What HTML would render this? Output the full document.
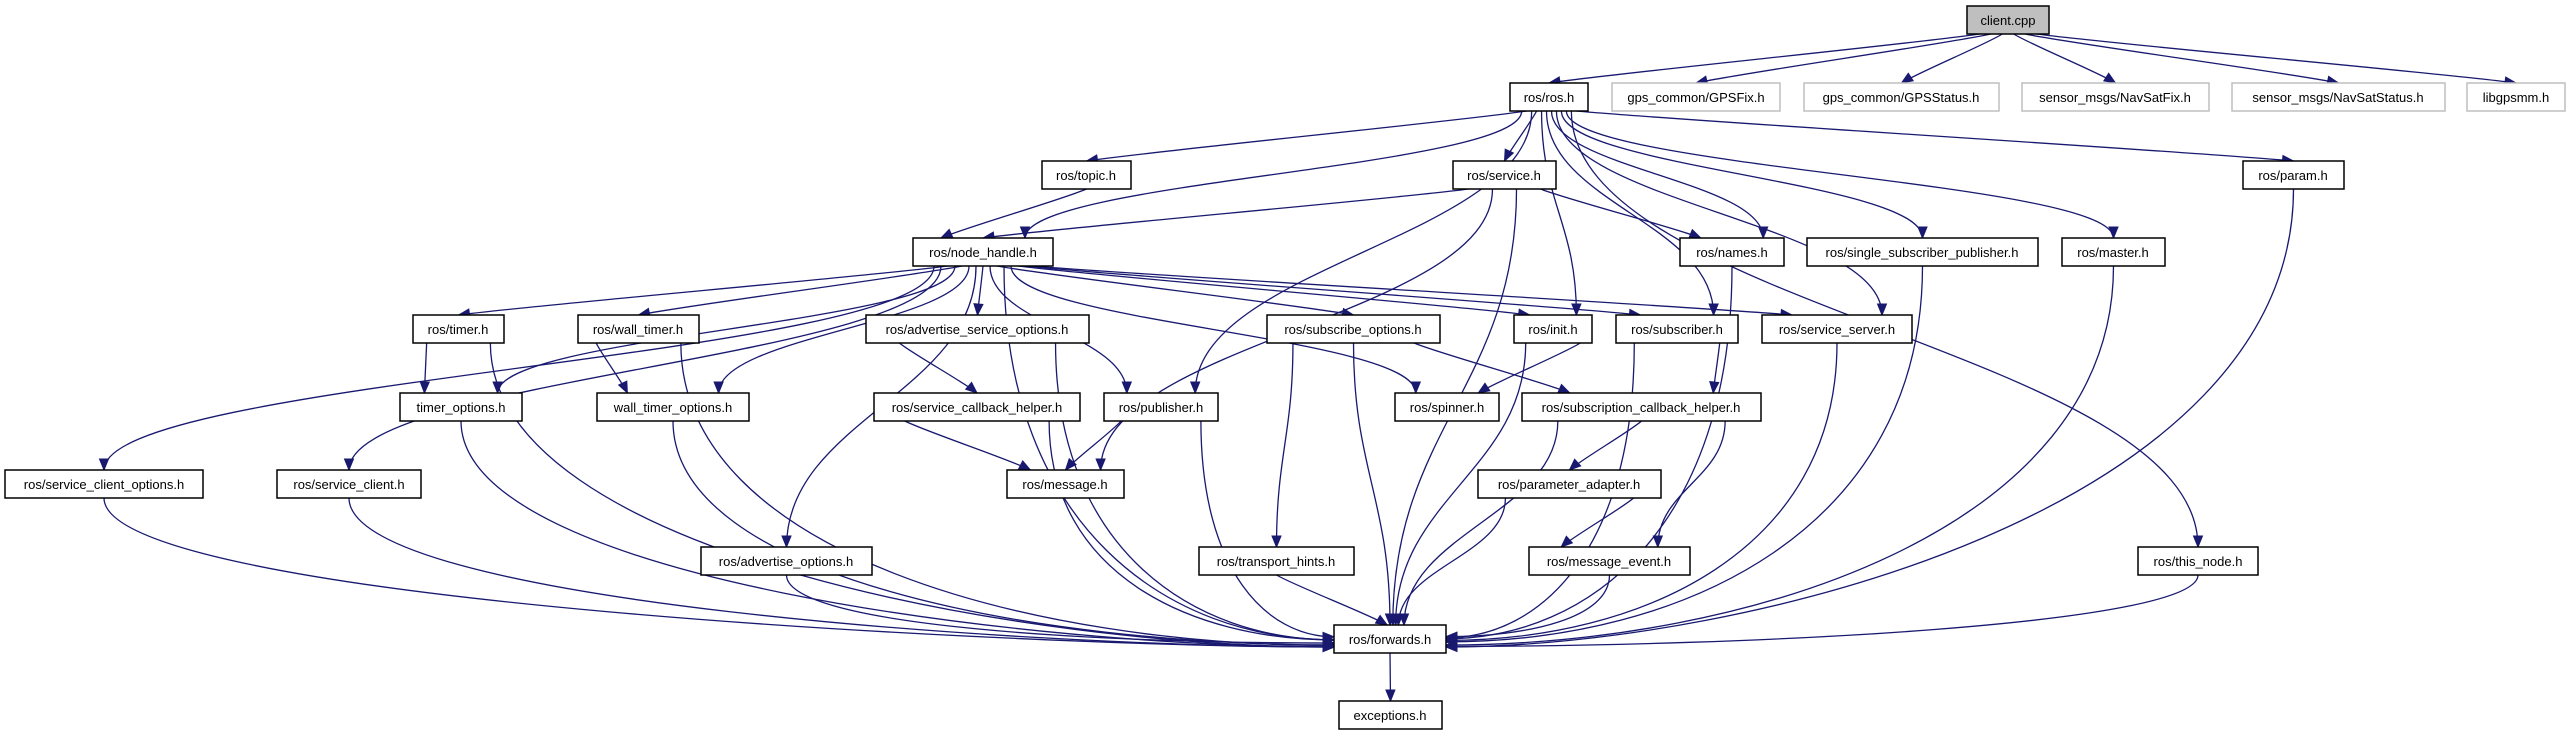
<!DOCTYPE html>
<html><head><meta charset="utf-8">
<style>
html,body{margin:0;padding:0;background:#fff;}
svg{display:block;}
text{font-family:"Liberation Sans",sans-serif;font-size:13px;fill:#000;}
</style></head>
<body>
<svg id="g" width="2569" height="736" viewBox="0 0 2569 736" xmlns="http://www.w3.org/2000/svg">
<g id="edges" fill="none" stroke="#191970" stroke-width="1.3"></g>
<g id="heads" fill="#191970" stroke="#191970" stroke-width="1"></g>
<g id="nodes" stroke-width="1.5">
<rect x="1967" y="6" width="82" height="28" fill="#bfbfbf" stroke="#000"/><text x="2008" y="25" text-anchor="middle">client.cpp</text>
<rect x="1510" y="83" width="78" height="28" fill="#fff" stroke="#000"/><text x="1549" y="102" text-anchor="middle">ros/ros.h</text>
<rect x="1612" y="83" width="168" height="28" fill="#fff" stroke="#bfbfbf"/><text x="1696" y="102" text-anchor="middle">gps_common/GPSFix.h</text>
<rect x="1804" y="83" width="195" height="28" fill="#fff" stroke="#bfbfbf"/><text x="1901" y="102" text-anchor="middle">gps_common/GPSStatus.h</text>
<rect x="2022" y="83" width="187" height="28" fill="#fff" stroke="#bfbfbf"/><text x="2115" y="102" text-anchor="middle">sensor_msgs/NavSatFix.h</text>
<rect x="2232" y="83" width="213" height="28" fill="#fff" stroke="#bfbfbf"/><text x="2338" y="102" text-anchor="middle">sensor_msgs/NavSatStatus.h</text>
<rect x="2467" y="83" width="98" height="28" fill="#fff" stroke="#bfbfbf"/><text x="2516" y="102" text-anchor="middle">libgpsmm.h</text>
<rect x="1042" y="161" width="89" height="28" fill="#fff" stroke="#000"/><text x="1086" y="180" text-anchor="middle">ros/topic.h</text>
<rect x="1453" y="161" width="103" height="28" fill="#fff" stroke="#000"/><text x="1504" y="180" text-anchor="middle">ros/service.h</text>
<rect x="2243" y="161" width="101" height="28" fill="#fff" stroke="#000"/><text x="2293" y="180" text-anchor="middle">ros/param.h</text>
<rect x="913" y="238" width="140" height="28" fill="#fff" stroke="#000"/><text x="983" y="257" text-anchor="middle">ros/node_handle.h</text>
<rect x="1680" y="238" width="104" height="28" fill="#fff" stroke="#000"/><text x="1732" y="257" text-anchor="middle">ros/names.h</text>
<rect x="1807" y="238" width="231" height="28" fill="#fff" stroke="#000"/><text x="1922" y="257" text-anchor="middle">ros/single_subscriber_publisher.h</text>
<rect x="2062" y="238" width="103" height="28" fill="#fff" stroke="#000"/><text x="2113" y="257" text-anchor="middle">ros/master.h</text>
<rect x="413" y="315" width="91" height="28" fill="#fff" stroke="#000"/><text x="458" y="334" text-anchor="middle">ros/timer.h</text>
<rect x="578" y="315" width="121" height="28" fill="#fff" stroke="#000"/><text x="638" y="334" text-anchor="middle">ros/wall_timer.h</text>
<rect x="866" y="315" width="223" height="28" fill="#fff" stroke="#000"/><text x="977" y="334" text-anchor="middle">ros/advertise_service_options.h</text>
<rect x="1267" y="315" width="173" height="28" fill="#fff" stroke="#000"/><text x="1353" y="334" text-anchor="middle">ros/subscribe_options.h</text>
<rect x="1514" y="315" width="78" height="28" fill="#fff" stroke="#000"/><text x="1553" y="334" text-anchor="middle">ros/init.h</text>
<rect x="1616" y="315" width="122" height="28" fill="#fff" stroke="#000"/><text x="1677" y="334" text-anchor="middle">ros/subscriber.h</text>
<rect x="1762" y="315" width="150" height="28" fill="#fff" stroke="#000"/><text x="1837" y="334" text-anchor="middle">ros/service_server.h</text>
<rect x="400" y="393" width="122" height="28" fill="#fff" stroke="#000"/><text x="461" y="412" text-anchor="middle">timer_options.h</text>
<rect x="597" y="393" width="152" height="28" fill="#fff" stroke="#000"/><text x="673" y="412" text-anchor="middle">wall_timer_options.h</text>
<rect x="874" y="393" width="206" height="28" fill="#fff" stroke="#000"/><text x="977" y="412" text-anchor="middle">ros/service_callback_helper.h</text>
<rect x="1104" y="393" width="114" height="28" fill="#fff" stroke="#000"/><text x="1161" y="412" text-anchor="middle">ros/publisher.h</text>
<rect x="1395" y="393" width="104" height="28" fill="#fff" stroke="#000"/><text x="1447" y="412" text-anchor="middle">ros/spinner.h</text>
<rect x="1522" y="393" width="239" height="28" fill="#fff" stroke="#000"/><text x="1641" y="412" text-anchor="middle">ros/subscription_callback_helper.h</text>
<rect x="5" y="470" width="198" height="28" fill="#fff" stroke="#000"/><text x="104" y="489" text-anchor="middle">ros/service_client_options.h</text>
<rect x="277" y="470" width="144" height="28" fill="#fff" stroke="#000"/><text x="349" y="489" text-anchor="middle">ros/service_client.h</text>
<rect x="1007" y="470" width="117" height="28" fill="#fff" stroke="#000"/><text x="1065" y="489" text-anchor="middle">ros/message.h</text>
<rect x="1478" y="470" width="183" height="28" fill="#fff" stroke="#000"/><text x="1569" y="489" text-anchor="middle">ros/parameter_adapter.h</text>
<rect x="701" y="547" width="171" height="28" fill="#fff" stroke="#000"/><text x="786" y="566" text-anchor="middle">ros/advertise_options.h</text>
<rect x="1199" y="547" width="155" height="28" fill="#fff" stroke="#000"/><text x="1276" y="566" text-anchor="middle">ros/transport_hints.h</text>
<rect x="1529" y="547" width="161" height="28" fill="#fff" stroke="#000"/><text x="1609" y="566" text-anchor="middle">ros/message_event.h</text>
<rect x="2138" y="547" width="120" height="28" fill="#fff" stroke="#000"/><text x="2198" y="566" text-anchor="middle">ros/this_node.h</text>
<rect x="1334" y="625" width="112" height="28" fill="#fff" stroke="#000"/><text x="1390" y="644" text-anchor="middle">ros/forwards.h</text>
<rect x="1339" y="701" width="103" height="28" fill="#fff" stroke="#000"/><text x="1390" y="720" text-anchor="middle">exceptions.h</text>
</g>
</svg>
<script>
var N={client:[1967,6,82],ros:[1510,83,78],gfix:[1612,83,168],gstat:[1804,83,195],nfix:[2022,83,187],nstat:[2232,83,213],lib:[2467,83,98],
topic:[1042,161,89],service:[1453,161,103],param:[2243,161,101],nh:[913,238,140],names:[1680,238,104],ssp:[1807,238,231],master:[2062,238,103],
timer:[413,315,91],wtimer:[578,315,121],aso:[866,315,223],so:[1267,315,173],init:[1514,315,78],sub:[1616,315,122],ss:[1762,315,150],
to:[400,393,122],wto:[597,393,152],sch:[874,393,206],pub:[1104,393,114],spin:[1395,393,104],sch2:[1522,393,239],
sco:[5,470,198],sc:[277,470,144],msg:[1007,470,117],pa:[1478,470,183],ao:[701,547,171],th:[1199,547,155],me:[1529,547,161],tn:[2138,547,120],
fw:[1334,625,112],ex:[1339,701,103]};
var E="client>ros client>gfix client>gstat client>nfix client>nstat client>lib ros>nh ros>topic ros>service ros>names ros>ssp ros>master ros>param ros>tn ros>init ros>sub ros>ss ros>pub "+
"topic>nh service>nh service>names service>msg service>fw names>fw ssp>fw master>fw param>fw "+
"nh>sco nh>sc nh>fw nh>timer nh>to nh>wtimer nh>wto nh>ao nh>aso nh>pub nh>so nh>spin nh>init nh>sub nh>ss "+
"timer>to timer>fw wtimer>wto wtimer>fw aso>sch aso>fw sch>msg sch>fw pub>msg pub>fw so>th so>fw so>sch2 init>spin init>fw sub>sch2 sub>fw ss>fw "+
"sch2>pa sch2>me sch2>fw pa>me pa>fw me>fw th>fw tn>fw to>fw wto>fw sco>fw sc>fw ao>fw fw>ex";
E=E.split(" ").map(function(s){return s.split(">");});
var H=28;
function cx(n){return N[n][0]+N[n][2]/2;}
var outs={},ins={};
E.forEach(function(e){(outs[e[0]]=outs[e[0]]||[]).push(e);(ins[e[1]]=ins[e[1]]||[]).push(e);});
for(var n in outs){var l=outs[n];l.sort(function(a,b){return cx(a[1])-cx(b[1]);});var w=N[n][2]*0.7,k=l.length;l.forEach(function(e,i){e.sx=cx(n)+(k==1?0:(-w/2+w*i/(k-1)));});}
for(var n in ins){var l=ins[n];l.sort(function(a,b){return cx(a[0])-cx(b[0]);});var w=N[n][2]*0.6,k=l.length;l.forEach(function(e,i){e.tx=cx(n)+(k==1?0:(-w/2+w*i/(k-1)));});}
var ep="",hp="";
E.forEach(function(e){var s=N[e[0]],t=N[e[1]];var sx=e.sx,sy=s[1]+H,tx=e.tx,ty=t[1];var c1x,c1y,c2x,c2y;
if(e[1]=="fw"&&Math.abs(cx(e[0])-1390)>200&&e[0]!="sch2"){var left=cx(e[0])<1390;tx=left?1334:1446;ty=633+Math.min(14,Math.abs(cx(e[0])-1390)/60);
 c1x=sx;c1y=sy+(ty-sy)*0.7;c2x=left?tx-Math.min(300,(tx-sx)*0.5):tx+Math.min(300,(sx-tx)*0.5);c2y=ty;}
else{var rows=Math.round((ty-sy)/77);var f=rows<=1?0.2:0.45;var d=(ty-sy)*f;c1x=sx;c1y=sy+d;c2x=tx;c2y=ty-d;
 if(rows<=1){c1x=sx+(tx-sx)*0.15;c2x=tx-(tx-sx)*0.15;}}
ep+='<path d="M'+sx+','+sy+' C'+c1x+','+c1y+' '+c2x+','+c2y+' '+tx+','+ty+'"/>';
var dx=tx-c2x,dy=ty-c2y,L=Math.sqrt(dx*dx+dy*dy)||1;dx/=L;dy/=L;var bl=11,bw=4.5;var bx=tx-dx*bl,by=ty-dy*bl;
hp+='<polygon points="'+tx+','+ty+' '+(bx-dy*bw)+','+(by+dx*bw)+' '+(bx+dy*bw)+','+(by-dx*bw)+'"/>';});
document.getElementById("edges").innerHTML=ep;document.getElementById("heads").innerHTML=hp;
</script>
</body></html>
